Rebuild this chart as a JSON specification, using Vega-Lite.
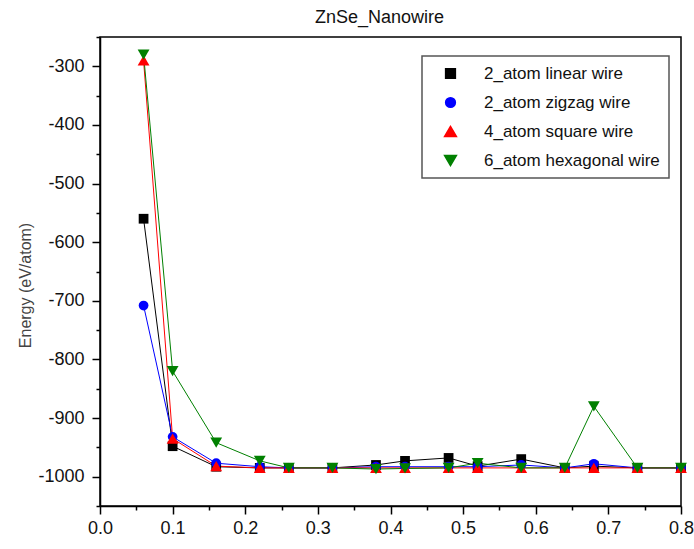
{
  "$schema": "https://vega.github.io/schema/vega-lite/v6.json",
  "width": 581,
  "height": 469,
  "autosize": {"type": "none"},
  "padding": {"left": 100, "top": 37, "right": 13, "bottom": 43},
  "background": "white",
  "title": {"text": "ZnSe_Nanowire", "fontSize": 18, "fontWeight": "normal", "font": "Liberation Sans", "color": "#111111", "anchor": "middle", "frame": "group", "offset": 9, "dx": -11, "dy": 8},
  "data": {"values": [
    {"s": "2_atom linear wire", "x": 0.06, "y": -560},
    {"s": "2_atom linear wire", "x": 0.10, "y": -948},
    {"s": "2_atom linear wire", "x": 0.16, "y": -983},
    {"s": "2_atom linear wire", "x": 0.22, "y": -985},
    {"s": "2_atom linear wire", "x": 0.26, "y": -985},
    {"s": "2_atom linear wire", "x": 0.32, "y": -985},
    {"s": "2_atom linear wire", "x": 0.38, "y": -980},
    {"s": "2_atom linear wire", "x": 0.42, "y": -973},
    {"s": "2_atom linear wire", "x": 0.48, "y": -968},
    {"s": "2_atom linear wire", "x": 0.52, "y": -982},
    {"s": "2_atom linear wire", "x": 0.58, "y": -970},
    {"s": "2_atom linear wire", "x": 0.64, "y": -985},
    {"s": "2_atom linear wire", "x": 0.68, "y": -982},
    {"s": "2_atom linear wire", "x": 0.74, "y": -985},
    {"s": "2_atom linear wire", "x": 0.80, "y": -985},
    {"s": "2_atom zigzag wire", "x": 0.06, "y": -708},
    {"s": "2_atom zigzag wire", "x": 0.10, "y": -932},
    {"s": "2_atom zigzag wire", "x": 0.16, "y": -977},
    {"s": "2_atom zigzag wire", "x": 0.22, "y": -983},
    {"s": "2_atom zigzag wire", "x": 0.26, "y": -985},
    {"s": "2_atom zigzag wire", "x": 0.32, "y": -985},
    {"s": "2_atom zigzag wire", "x": 0.38, "y": -983},
    {"s": "2_atom zigzag wire", "x": 0.42, "y": -983},
    {"s": "2_atom zigzag wire", "x": 0.48, "y": -983},
    {"s": "2_atom zigzag wire", "x": 0.52, "y": -983},
    {"s": "2_atom zigzag wire", "x": 0.58, "y": -980},
    {"s": "2_atom zigzag wire", "x": 0.64, "y": -985},
    {"s": "2_atom zigzag wire", "x": 0.68, "y": -978},
    {"s": "2_atom zigzag wire", "x": 0.74, "y": -985},
    {"s": "2_atom zigzag wire", "x": 0.80, "y": -985},
    {"s": "4_atom square wire", "x": 0.06, "y": -290},
    {"s": "4_atom square wire", "x": 0.10, "y": -935},
    {"s": "4_atom square wire", "x": 0.16, "y": -982},
    {"s": "4_atom square wire", "x": 0.22, "y": -985},
    {"s": "4_atom square wire", "x": 0.26, "y": -985},
    {"s": "4_atom square wire", "x": 0.32, "y": -985},
    {"s": "4_atom square wire", "x": 0.38, "y": -985},
    {"s": "4_atom square wire", "x": 0.42, "y": -985},
    {"s": "4_atom square wire", "x": 0.48, "y": -985},
    {"s": "4_atom square wire", "x": 0.52, "y": -985},
    {"s": "4_atom square wire", "x": 0.58, "y": -985},
    {"s": "4_atom square wire", "x": 0.64, "y": -985},
    {"s": "4_atom square wire", "x": 0.68, "y": -985},
    {"s": "4_atom square wire", "x": 0.74, "y": -985},
    {"s": "4_atom square wire", "x": 0.80, "y": -985},
    {"s": "6_atom hexagonal wire", "x": 0.06, "y": -280},
    {"s": "6_atom hexagonal wire", "x": 0.10, "y": -820},
    {"s": "6_atom hexagonal wire", "x": 0.16, "y": -942},
    {"s": "6_atom hexagonal wire", "x": 0.22, "y": -973},
    {"s": "6_atom hexagonal wire", "x": 0.26, "y": -985},
    {"s": "6_atom hexagonal wire", "x": 0.32, "y": -985},
    {"s": "6_atom hexagonal wire", "x": 0.38, "y": -987},
    {"s": "6_atom hexagonal wire", "x": 0.42, "y": -986},
    {"s": "6_atom hexagonal wire", "x": 0.48, "y": -985},
    {"s": "6_atom hexagonal wire", "x": 0.52, "y": -977},
    {"s": "6_atom hexagonal wire", "x": 0.58, "y": -985},
    {"s": "6_atom hexagonal wire", "x": 0.64, "y": -985},
    {"s": "6_atom hexagonal wire", "x": 0.68, "y": -880},
    {"s": "6_atom hexagonal wire", "x": 0.74, "y": -985},
    {"s": "6_atom hexagonal wire", "x": 0.80, "y": -985}
  ]},
  "encoding": {
    "x": {
      "field": "x", "type": "quantitative",
      "scale": {"domain": [0, 0.8], "nice": false, "zero": false},
      "axis": {
        "title": null,
        "grid": false,
        "values": [0, 0.05, 0.1, 0.15, 0.2, 0.25, 0.3, 0.35, 0.4, 0.45, 0.5, 0.55, 0.6, 0.65, 0.7, 0.75, 0.8],
        "labelExpr": "round(datum.value * 100) % 10 === 0 ? format(datum.value, '.1f') : ''",
        "tickSize": {"condition": {"test": "round(datum.value * 100) % 10 !== 0", "value": 4}, "value": 8},
        "labelPadding": 5,
        "labelFlush": false,
        "labelOverlap": false
      }
    },
    "y": {
      "field": "y", "type": "quantitative",
      "scale": {"domain": [-1050, -250], "nice": false, "zero": false},
      "axis": {
        "title": "Energy (eV/atom)",
        "grid": false,
        "values": [-1050, -1000, -950, -900, -850, -800, -750, -700, -650, -600, -550, -500, -450, -400, -350, -300, -250],
        "labelExpr": "datum.value % 100 === 0 ? '-' + abs(datum.value) : ''",
        "tickSize": {"condition": {"test": "datum.value % 100 !== 0", "value": 4}, "value": 8},
        "labelPadding": 8,
        "labelOverlap": false,
        "labelFlush": false,
        "titleX": -75,
        "titleY": 248,
        "titleAngle": 270,
        "titleAlign": "center",
        "titleBaseline": "middle",
        "titleFontSize": 16,
        "titleFontWeight": "normal",
        "titleColor": "#444444",
        "titleFont": "Liberation Sans"
      }
    }
  },
  "layer": [
    {
      "mark": {"type": "line", "strokeWidth": 1},
      "encoding": {
        "color": {"field": "s", "type": "nominal",
          "scale": {"domain": ["2_atom linear wire", "2_atom zigzag wire", "4_atom square wire", "6_atom hexagonal wire"], "range": ["#000000", "#0000ff", "#ff0000", "#008000"]}},
        "detail": {"field": "s"}
      }
    },
    {
      "mark": {"type": "point", "filled": true, "opacity": 1, "strokeWidth": 1},
      "encoding": {
        "color": {"field": "s", "type": "nominal",
          "scale": {"domain": ["2_atom linear wire", "2_atom zigzag wire", "4_atom square wire", "6_atom hexagonal wire"], "range": ["#000000", "#0000ff", "#ff0000", "#008000"]},
          "legend": {
            "title": null,
            "orient": "none",
            "legendX": 322,
            "legendY": 19,
            "padding": 9,
            "rowPadding": 11,
            "strokeColor": "#555555",
            "fillColor": "white",
            "symbolSize": 81,
            "symbolOffset": 11,
            "labelOffset": 25,
            "labelFontSize": 17,
            "labelFont": "Liberation Sans",
            "labelColor": "#111111",
            "labelLimit": 300
          }
        },
        "shape": {"field": "s", "type": "nominal", "legend": null,
          "scale": {"domain": ["2_atom linear wire", "2_atom zigzag wire", "4_atom square wire", "6_atom hexagonal wire"], "range": ["square", "circle", "triangle-up", "triangle-down"]}},
        "size": {"field": "s", "type": "ordinal", "legend": null,
          "scale": {"type": "ordinal", "domain": ["2_atom linear wire", "2_atom zigzag wire", "4_atom square wire", "6_atom hexagonal wire"], "range": [95, 95, 140, 140]}}
      }
    }
  ],
  "config": {
    "view": {"stroke": "#000000", "strokeWidth": 1.5},
    "axis": {
      "labelFont": "Liberation Sans",
      "labelFontSize": 18,
      "labelColor": "#111111",
      "domainColor": "#000000",
      "domainWidth": 1.5,
      "tickColor": "#000000",
      "tickWidth": 1.5
    },
    "legend": {"strokeWidth": 1.5}
  }
}
